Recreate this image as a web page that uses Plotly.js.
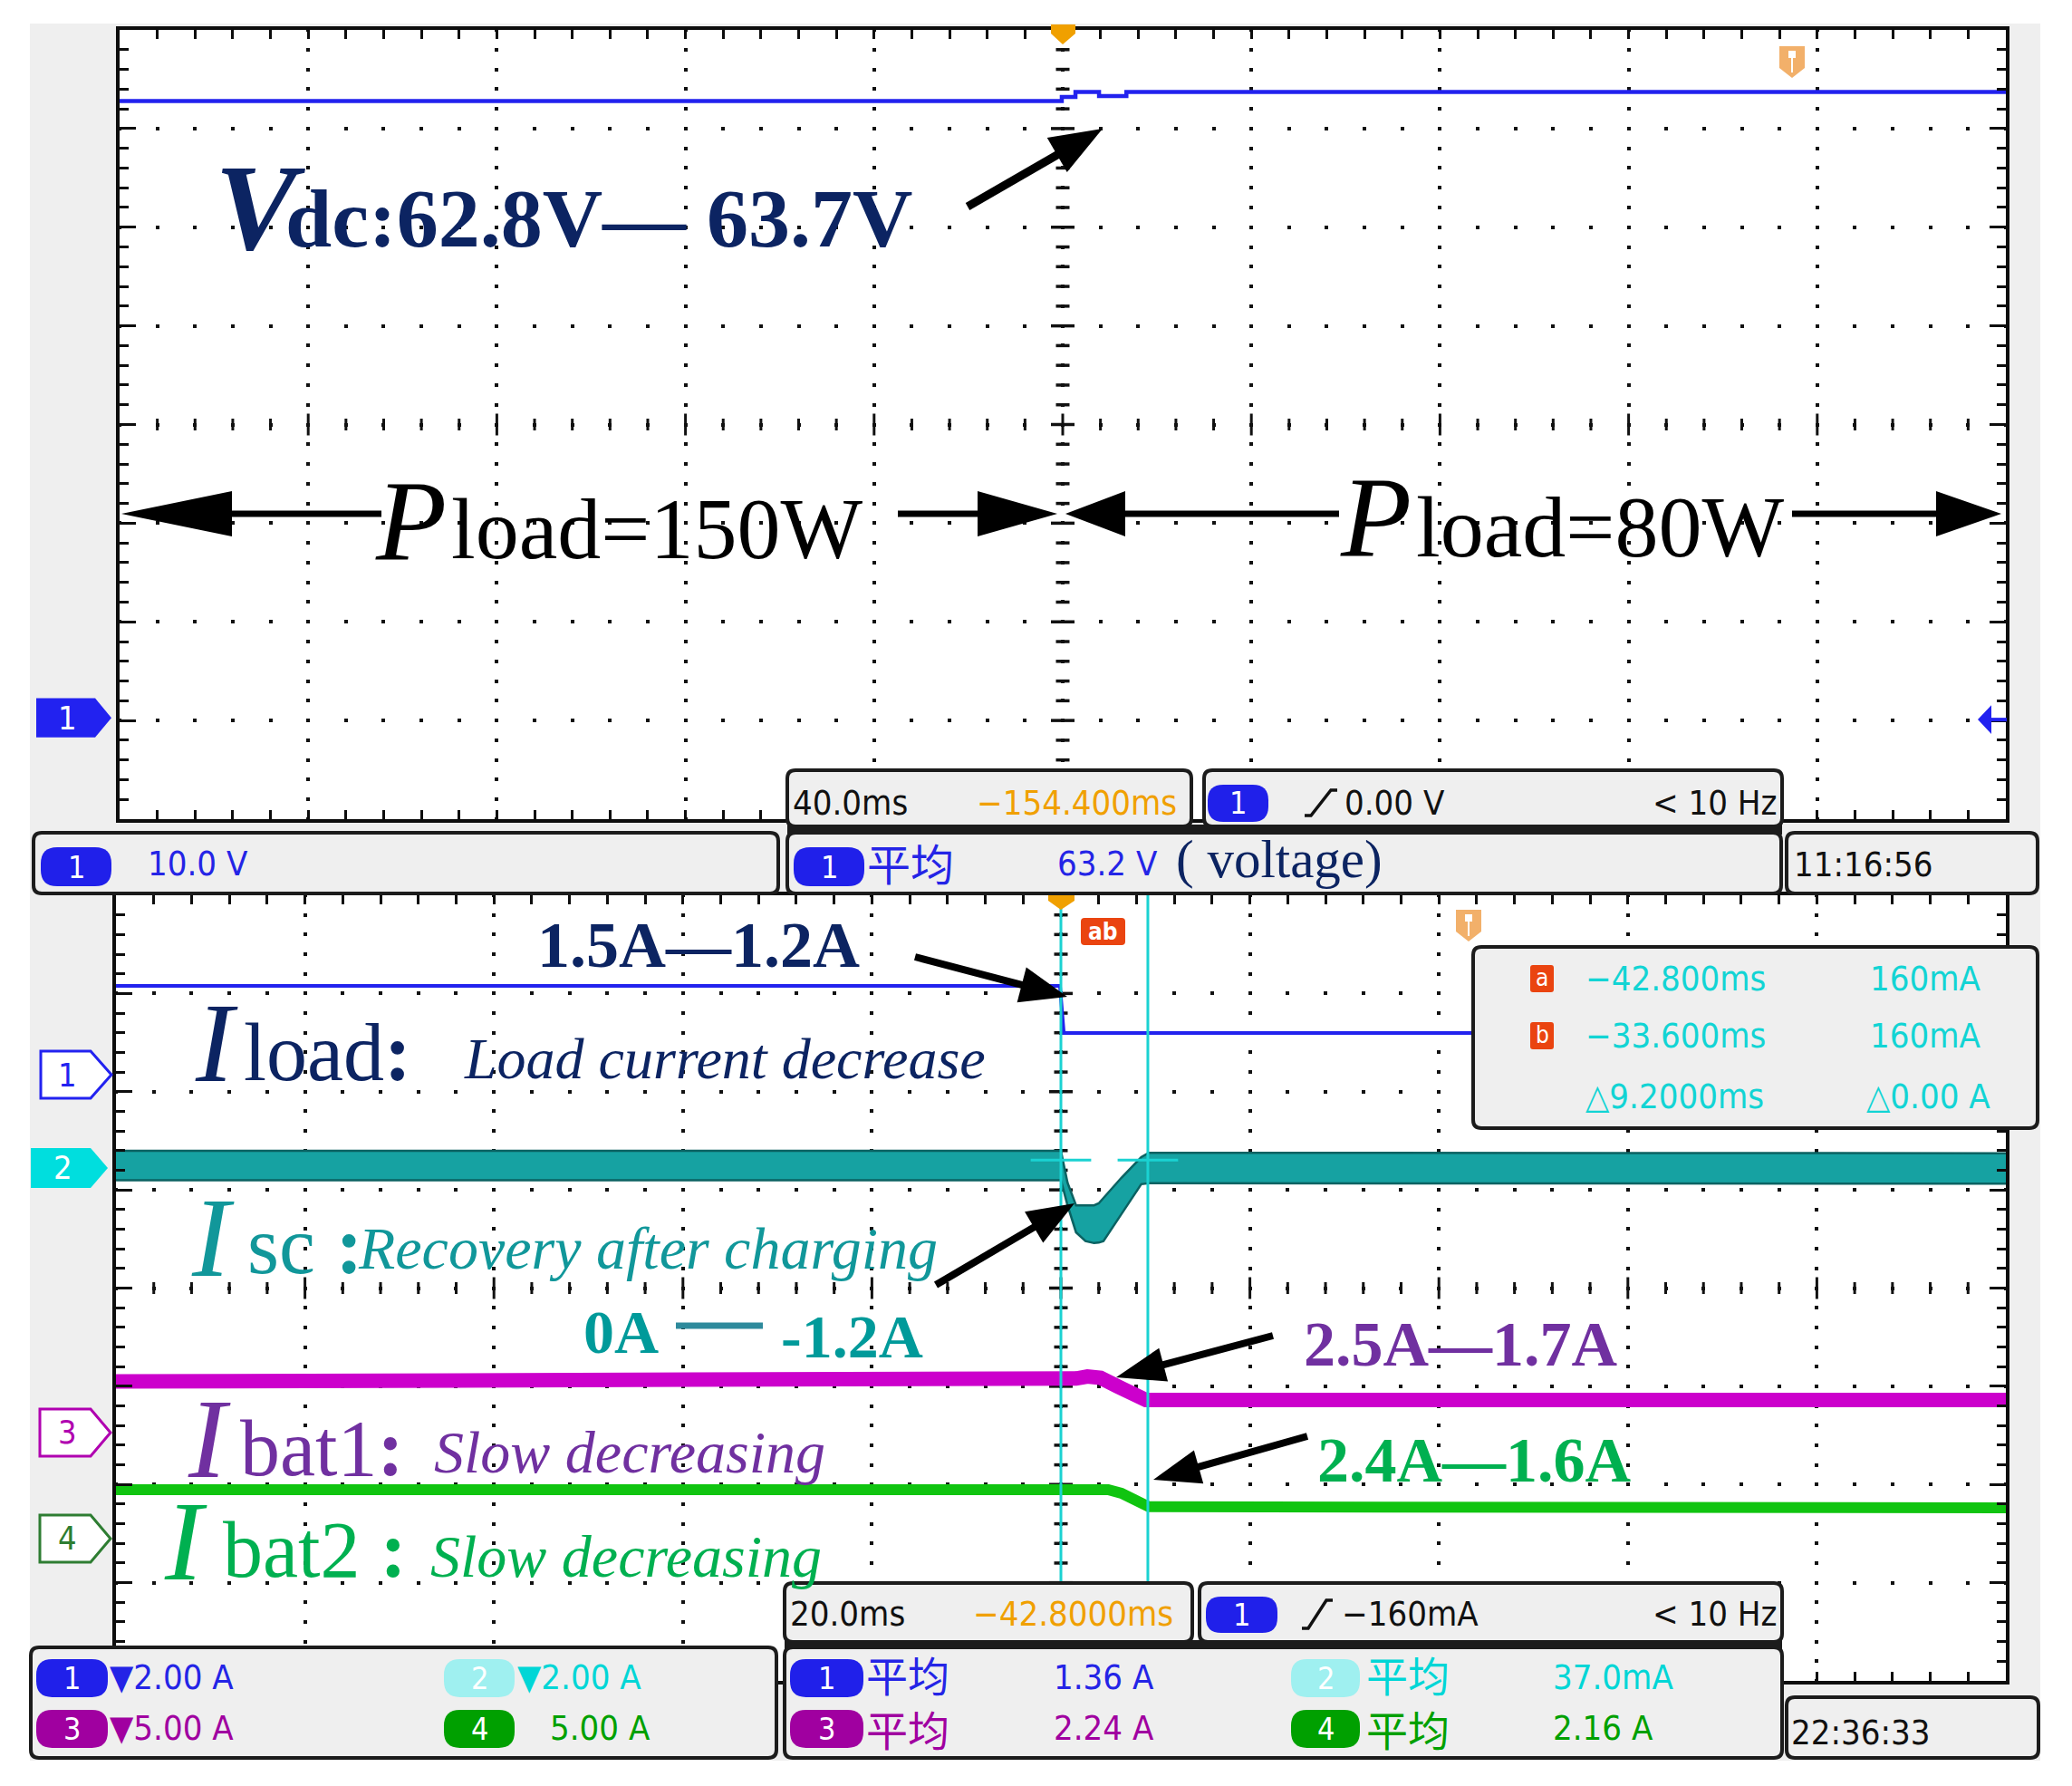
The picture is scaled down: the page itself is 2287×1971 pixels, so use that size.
<!DOCTYPE html>
<html><head><meta charset="utf-8">
<script src="https://cdn.plot.ly/plotly-3.0.1.min.js"></script>
<style>html,body{margin:0;padding:0;background:#fff}#chart{width:2287px;height:1971px}</style>
</head><body><div id="chart"></div>
<script>
// ================= DATA =================
// Upper screen: DC bus voltage Vdc (ch1, V) vs time (ms); 40 ms/div, position -154.4 ms
const vdcTime = [-354.4, -154.6, -151.7, -146.7, -140.9, 45.6];
const vdcVolt = [62.8, 63.2, 63.7, 63.3, 63.7, 63.7];

// Lower screen: currents (A) vs time (ms); 20 ms/div, position -42.8 ms
const iloadTime = [-142.8, -42.9, -42.5, 57.2];
const iloadAmp  = [1.81, 1.81, 0.85, 0.85];

const iscTime = [-142.8, -42.8, -42.1, -41.2, -40.2, -39.3, -38.8, -38.3, -36.4, -34.3, -33.5, 57.2];
const iscHigh = [0.35, 0.35, -0.30, -0.76, -0.76, -0.76, -0.72, -0.61, -0.20, 0.22, 0.31, 0.30];
const iscLow  = [-0.25, -0.25, -0.76, -1.31, -1.49, -1.53, -1.52, -1.49, -0.94, -0.33, -0.31, -0.32];

const ibat1Time = [-142.8, -42.9, -41.2, -40.0, -38.6, -36.8, -35.3, -33.8, 57.2];
const ibat1Amp  = [2.60, 2.62, 2.75, 2.85, 2.78, 2.35, 1.98, 1.66, 1.66];

const ibat2Time = [-142.8, -37.8, -36.4, -34.9, -33.5, 57.2];
const ibat2Amp  = [2.49, 2.49, 2.31, 1.91, 1.62, 1.57];

const cursorTimes = [-42.8, -33.6];
const cursorLevel = 0.16;

// channel settings of the lower screen: ch1 Iload, ch2 Isc, ch3 Ibat1, ch4 Ibat2
const chScale = [2, 2, 5, 5];               // A/div
const chOffsetDiv = [2.173, 1.223, -1.471, -2.551]; // ground position, div above centre

// ================= HELPERS =================
const W = 2287, H = 1971;
const X = p => p / W;
const Y = p => 1 - p / H;
const SERIF = '"Liberation Serif", "Times New Roman", serif';
const SANS = '"DejaVu Sans Condensed", "DejaVu Sans", sans-serif';
const CJK = '"Noto Sans CJK SC", sans-serif';
const BLUE = '#2222ee', BLUE_T = '#2424e6', CYAN_T = '#12d4d4', PURP_T = '#a000a0', GRN_T = '#00a000';
const ORANGE = '#f0a000', NAVY = '#0c2462', TEAL = '#11979a', LPURP = '#7030a0', LGRN = '#00b050';
const CURSOR = '#1ad2d2';

const topP = {x0: 132, x1: 2214, y0: 33, y1: 904};
const botP = {x0: 128, x1: 2214, y0: 988, y1: 1855};
const topX = [-354.4, 45.6], topY = [-10, 70];
const botX = [-142.8, 57.2];

const shapes = [];
const ann = [];
const f = (x, y) => X(x).toFixed(5) + ',' + Y(y).toFixed(5);
function poly(pts, fill, lc, lw, layer) {
  shapes.push({type: 'path', xref: 'paper', yref: 'paper', layer: layer || 'above',
    path: 'M' + pts.map(p => f(p[0], p[1])).join(' L') + ' Z',
    fillcolor: fill || 'rgba(0,0,0,0)', line: {color: lc || 'rgba(0,0,0,0)', width: lw || 0}});
}
function polyline(pts, lc, lw) {
  shapes.push({type: 'path', xref: 'paper', yref: 'paper', layer: 'above',
    path: 'M' + pts.map(p => f(p[0], p[1])).join(' L'), line: {color: lc, width: lw}});
}
function rect(x0, y0, x1, y1, fill, layer) {
  shapes.push({type: 'rect', xref: 'paper', yref: 'paper', layer: layer || 'above',
    x0: X(x0), x1: X(x1), y0: Y(y1), y1: Y(y0), fillcolor: fill, line: {width: 0}});
}
function line(x0, y0, x1, y1, c, w) {
  shapes.push({type: 'line', xref: 'paper', yref: 'paper', layer: 'above',
    x0: X(x0), y0: Y(y0), x1: X(x1), y1: Y(y1), line: {color: c, width: w}});
}
function rrect(x0, y0, x1, y1, r, fill, lc, lw) {
  shapes.push({type: 'path', xref: 'paper', yref: 'paper', layer: 'above',
    path: `M${f(x0 + r, y0)} L${f(x1 - r, y0)} Q${f(x1, y0)} ${f(x1, y0 + r)} L${f(x1, y1 - r)} Q${f(x1, y1)} ${f(x1 - r, y1)} L${f(x0 + r, y1)} Q${f(x0, y1)} ${f(x0, y1 - r)} L${f(x0, y0 + r)} Q${f(x0, y0)} ${f(x0 + r, y0)} Z`,
    fillcolor: fill, line: {color: lc || 'rgba(0,0,0,0)', width: lw || 0}});
}
function arrow(tx, ty, hx, hy, hl, hw, lw, c) {
  const dx = hx - tx, dy = hy - ty, L = Math.hypot(dx, dy), ux = dx / L, uy = dy / L;
  const bx = hx - ux * hl, by = hy - uy * hl, nx = -uy, ny = ux;
  line(tx, ty, bx + ux * 3, by + uy * 3, c, lw);
  poly([[hx, hy], [bx + nx * hw / 2, by + ny * hw / 2], [bx - nx * hw / 2, by - ny * hw / 2]], c);
}
function T(text, x, y, size, color, family, opts) {
  ann.push(Object.assign({xref: 'paper', yref: 'paper', x: X(x), y: Y(y), text: text, showarrow: false,
    xanchor: 'left', yanchor: 'middle', borderpad: 0, font: {family: family || SANS, size: size, color: color}}, opts || {}));
}
function S(text, x, baseline, size, color, opts) { T(text, x, baseline - 0.3375 * size, size, color, SERIF, opts); }
// two stacked rows of the CJK word in one text block (row pitch of the scope panel)
function C2(x, yMid, c1, c2) {
  T(`<span style="color:${c1}">平均</span><br><span style="color:${c2}">平均</span>`, x, yMid, 46, c1, CJK, {align: 'left'});
}
function box(x0, y0, x1, y1) { rrect(x0, y0, x1, y1, 9, '#efefef', '#1c1c1c', 4); }
function badge(x0, y0, x1, y1, color, label) {
  rrect(x0, y0, x1, y1, (y1 - y0) * 0.42, color);
  T(label, (x0 + x1) / 2, (y0 + y1) / 2, 34, '#ffffff', SANS, {xanchor: 'center'});
}
function edge(x0, y0, x1, y1) {
  polyline([[x0, y1], [x0 + 7, y1], [x1 - 7, y0], [x1, y0]], '#111', 3.5);
}
function chMarker(x0, xb, xt, yc, h, color, filled, label) {
  poly([[x0, yc - h], [xb, yc - h], [xt, yc], [xb, yc + h], [x0, yc + h]], filled ? color : '#ffffff', color, filled ? 0 : 3);
  T(label, (x0 + xb) / 2 + 2, yc, 36, filled ? '#ffffff' : color, SANS, {xanchor: 'center'});
}

// ================= BACKGROUND =================
rect(33, 26, 2252, 1943, '#efefef', 'below');
rect(topP.x0, topP.y0, topP.x1, topP.y1, '#ffffff', 'below');
rect(botP.x0, botP.y0, botP.x1, botP.y1, '#ffffff', 'below');

// ================= RULERS (centre cross of graticule) =================
function rulers(xref, yref, xr, yr, nx, ny, x0px, x1px, y0px, y1px) {
  const xc = (xr[0] + xr[1]) / 2, yc = (yr[0] + yr[1]) / 2;
  const pxX = (xr[1] - xr[0]) / (x1px - x0px), pxY = (yr[1] - yr[0]) / (y1px - y0px);
  for (let k = 1; k < nx; k++) {
    const t = xr[0] + k * (xr[1] - xr[0]) / nx;
    const h = (k % 5 === 0 ? 12 : 6.5) * pxY;
    shapes.push({type: 'line', xref: xref, yref: yref, layer: 'between', x0: t, x1: t, y0: yc - h, y1: yc + h, line: {color: '#111', width: 3}});
  }
  for (let j = 1; j < ny; j++) {
    const v = yr[0] + j * (yr[1] - yr[0]) / ny;
    const h = (j % 5 === 0 ? 13 : 7.5) * pxX;
    shapes.push({type: 'line', xref: xref, yref: yref, layer: 'between', x0: xc - h, x1: xc + h, y0: v, y1: v, line: {color: '#111', width: 3.5}});
  }
}
rulers('x', 'y', topX, topY, 50, 40, topP.x0, topP.x1, topP.y0, topP.y1);
rulers('x2', 'y2', botX, [-4, 4], 50, 40, botP.x0, botP.x1, botP.y0, botP.y1);

// ================= CURSORS =================
cursorTimes.forEach(t => {
  shapes.push({type: 'line', xref: 'x2', yref: 'y2', layer: 'above', x0: t, x1: t, y0: -4, y1: 4, line: {color: CURSOR, width: 3}});
  shapes.push({type: 'line', xref: 'x2', yref: 'y4', layer: 'above', x0: t - 3.2, x1: t + 3.2, y0: cursorLevel, y1: cursorLevel, line: {color: CURSOR, width: 3}});
});

// ================= MARKERS =================
const topDivPx = (topP.y1 - topP.y0) / 8, botDivPx = (botP.y1 - botP.y0) / 8, botC = (botP.y0 + botP.y1) / 2;
const topGround = topP.y1 - (0 - topY[0]) / 10 * topDivPx;
const ground = chOffsetDiv.map(o => botC - o * botDivPx);
chMarker(40, 105, 123, topGround - 3, 21.5, '#2222f0', true, '1');
chMarker(45, 100, 123, ground[0], 26, '#2222f0', false, '1');
chMarker(34, 100, 119, ground[1], 22, '#00dede', true, '2');
chMarker(44, 100, 122, ground[2], 26, '#b000b0', false, '3');
chMarker(44, 100, 122, ground[3], 26, '#2e7d32', false, '4');
// trigger level arrow (right, top screen)
poly([[2183, topGround - 1], [2198, topGround - 17], [2198, topGround + 15]], '#2222f0');
line(2195, topGround - 1, 2215, topGround - 1, '#2222f0', 4);
// trigger position markers
poly([[1160, 27], [1187, 27], [1187, 37], [1173, 49], [1160, 37]], ORANGE);
poly([[1157, 987], [1186, 987], [1186, 994], [1171, 1004], [1157, 994]], ORANGE);
poly([[1964, 51], [1992, 51], [1992, 75], [1978, 86], [1964, 75]], '#f2b06a');
rect(1974, 56, 1982, 64, '#ffffff'); line(1978, 64, 1978, 80, '#ffffff', 2);
poly([[1607, 1004], [1635, 1004], [1635, 1028], [1621, 1039], [1607, 1028]], '#f2b06a');
rect(1617, 1009, 1625, 1017, '#ffffff'); line(1621, 1017, 1621, 1033, '#ffffff', 2);
rrect(1193, 1013, 1242, 1043, 4, '#ea4410');
T('<b>ab</b>', 1217, 1028, 26, '#ffffff', SANS, {xanchor: 'center'});

// ================= ARROWS =================
arrow(1068, 228, 1217, 142, 58, 44, 9, '#000');
arrow(421, 567, 134, 567, 122, 50, 7, '#000');
arrow(991, 567, 1167, 567, 88, 50, 7, '#000');
arrow(1478, 567, 1176, 567, 66, 50, 7, '#000');
arrow(1978, 567, 2209, 567, 72, 50, 7, '#000');
arrow(1010, 1056, 1178, 1100, 52, 40, 8, '#000');
arrow(1033, 1418, 1186, 1328, 52, 40, 8, '#000');
arrow(1405, 1474, 1232, 1520, 54, 38, 8, '#000');
arrow(1443, 1585, 1273, 1633, 52, 38, 8, '#000');
line(746, 1463, 842, 1463, '#2e8a9c', 7);

// ================= INFO BOXES =================
box(869, 850, 1315, 912);
box(1329, 850, 1967, 912);
box(37, 919, 859, 986);
box(869, 919, 1966, 986);
box(1972, 919, 2249, 986);
rect(869, 910, 1967, 921, '#1c1c1c');
box(1626, 1045, 2249, 1245);
box(866, 1747, 1316, 1812);
box(1324, 1747, 1967, 1812);
box(34, 1818, 857, 1940);
box(866, 1818, 1967, 1940);
box(1972, 1873, 2250, 1940);
rect(866, 1810, 1967, 1820, '#1c1c1c');

// top row
T('40.0ms', 874, 886, 38, '#111');
T('−154.400ms', 1077, 886, 38, ORANGE);
badge(1333, 866, 1400, 907, '#2020ea', '1');
edge(1440, 872, 1476, 900);
T('0.00 V', 1483, 886, 38, '#111');
T('< 10 Hz', 1963, 886, 38, '#111', SANS, {xanchor: 'right'});
// second row
badge(45, 935, 123, 978, '#2020ea', '1');
T('10.0 V', 162, 953, 38, BLUE_T);
badge(876, 935, 954, 978, '#2020ea', '1');
T('平均', 956, 951, 48, BLUE_T, CJK);
T('63.2 V', 1166, 953, 38, BLUE_T);
S('( voltage)', 1297, 968, 59, NAVY);
T('11:16:56', 1979, 954, 38, '#111');
// cursor box
rrect(1689, 1065, 1715, 1095, 3, '#ea4410');
T('a', 1702, 1079, 26, '#ffffff', SANS, {xanchor: 'center'});
rrect(1689, 1128, 1715, 1158, 3, '#ea4410');
T('b', 1702, 1142, 26, '#ffffff', SANS, {xanchor: 'center'});
T('−42.800ms', 1749, 1080, 38, CYAN_T);
T('160mA', 2063, 1080, 38, CYAN_T);
T('−33.600ms', 1749, 1143, 38, CYAN_T);
T('160mA', 2063, 1143, 38, CYAN_T);
T('△9.2000ms', 1749, 1210, 38, CYAN_T);
T('△0.00 A', 2059, 1210, 38, CYAN_T);
// lower boxes
T('20.0ms', 871, 1781, 38, '#111');
T('−42.8000ms', 1073, 1781, 38, ORANGE);
badge(1331, 1762, 1410, 1802, '#2020ea', '1');
edge(1437, 1766, 1471, 1797);
T('−160mA', 1480, 1781, 38, '#111');
T('< 10 Hz', 1963, 1781, 38, '#111', SANS, {xanchor: 'right'});
badge(40, 1831, 119, 1873, '#2020ea', '1');
T('▼2.00 A', 120, 1851, 38, BLUE_T);
badge(490, 1831, 568, 1873, '#9ff0f0', '2');
T('▼2.00 A', 570, 1851, 38, '#00d6d6');
badge(40, 1887, 119, 1929, '#a000a0', '3');
T('▼5.00 A', 120, 1907, 38, PURP_T);
badge(490, 1887, 568, 1929, '#00a000', '4');
T('5.00 A', 606, 1907, 38, GRN_T);
badge(872, 1831, 953, 1873, '#2020ea', '1');
badge(872, 1887, 953, 1929, '#a000a0', '3');
C2(955, 1877, BLUE_T, PURP_T);
T('1.36 A', 1162, 1851, 38, BLUE_T);
T('2.24 A', 1162, 1907, 38, PURP_T);
badge(1425, 1831, 1501, 1873, '#9ff0f0', '2');
badge(1425, 1887, 1501, 1929, '#00a000', '4');
C2(1507, 1877, '#00d6d6', GRN_T);
T('37.0mA', 1713, 1851, 38, '#00d6d6');
T('2.16 A', 1713, 1907, 38, GRN_T);
T('22:36:33', 1976, 1912, 38, '#111');

// ================= LABELS =================
S('<b><i>V</i></b>', 236, 275, 136, NAVY);
S('<b>dc:62.8V— 63.7V</b>', 314, 272, 92, NAVY);
S('<i>P</i>', 413, 618, 128, '#000');
S('load=150W', 497, 616, 96, '#000');
S('<i>P</i>', 1478, 614, 128, '#000');
S('load=80W', 1562, 614, 96, '#000');
S('<i>I</i>', 214, 1193, 125, NAVY);
S('load<b>:</b>', 268, 1192, 90, NAVY);
S('<i>Load current decrease</i>', 511, 1190, 64, NAVY);
S('<b>1.5A—1.2A</b>', 771, 1067, 72, NAVY, {xanchor: 'center'});
S('<i>I</i>', 210, 1408, 125, TEAL);
S('sc <b>:</b>', 272, 1405, 90, TEAL);
S('<i>Recovery after charging</i>', 394, 1400, 66, TEAL);
S('<b>0A</b>', 643, 1493, 68, '#009a9a');
S('<b>-1.2A</b>', 861, 1498, 68, '#009a9a');
S('<b>2.5A—1.7A</b>', 1612, 1507, 70, LPURP, {xanchor: 'center'});
S('<b>2.4A—1.6A</b>', 1627, 1635, 70, LGRN, {xanchor: 'center'});
S('<i>I</i>', 206, 1630, 125, LPURP);
S('bat1<b>:</b>', 264, 1628, 88, LPURP);
S('<i>Slow decreasing</i>', 478, 1625, 66, LPURP);
S('<i>I</i>', 180, 1743, 125, LGRN);
S('bat2 <b>:</b>', 245, 1740, 88, LGRN);
S('<i>Slow decreasing</i>', 474, 1740, 66, LGRN);

// ================= AXES =================
const dotDash = p => `2px,${(p - 4).toFixed(3)}px,2px,0px`;
function axis(extra) {
  return Object.assign({
    showline: true, mirror: 'allticks', linecolor: '#0d0d0d', linewidth: 4,
    ticks: 'inside', tickcolor: '#0d0d0d', tickwidth: 3,
    showticklabels: false, zeroline: false, showgrid: true, gridcolor: '#111', gridwidth: 4,
    fixedrange: true
  }, extra);
}
const minor = (t0, dt) => ({tick0: t0, dtick: dt, ticks: 'inside', ticklen: 10, tickwidth: 3, tickcolor: '#0d0d0d', showgrid: false});

const layout = {
  width: W, height: H, margin: {l: 0, r: 0, t: 0, b: 0},
  paper_bgcolor: '#ffffff', plot_bgcolor: 'rgba(0,0,0,0)', showlegend: false, hovermode: false,
  xaxis: axis({domain: [X(topP.x0), X(topP.x1)], range: topX, tick0: topX[0], dtick: 40, ticklen: 10,
    griddash: dotDash((topP.y1 - topP.y0) / 40), anchor: 'y', minor: minor(topX[0], 8)}),
  yaxis: axis({domain: [Y(topP.y1), Y(topP.y0)], range: topY, tick0: topY[0], dtick: 10, ticklen: 18,
    griddash: dotDash((topP.x1 - topP.x0) / 50), anchor: 'x', minor: minor(topY[0], 2)}),
  xaxis2: axis({domain: [X(botP.x0), X(botP.x1)], range: botX, tick0: botX[0], dtick: 20, ticklen: 10,
    griddash: dotDash((botP.y1 - botP.y0) / 40), anchor: 'y2', minor: minor(botX[0], 4)}),
  yaxis2: axis({domain: [Y(botP.y1), Y(botP.y0)], range: [-4, 4], tick0: -4, dtick: 1, ticklen: 18,
    griddash: dotDash((botP.x1 - botP.x0) / 50), anchor: 'x2', minor: minor(-4, 0.2)}),
  shapes: shapes, annotations: ann
};
chScale.forEach((s, i) => {
  layout['yaxis' + (i + 3)] = {overlaying: 'y2', anchor: 'x2', visible: false, fixedrange: true,
    range: [(-4 - chOffsetDiv[i]) * s, (4 - chOffsetDiv[i]) * s]};
});

const traces = [
  {x: vdcTime, y: vdcVolt, xaxis: 'x', yaxis: 'y', mode: 'lines', line: {color: BLUE, width: 4.5, shape: 'hv'}},
  {x: iloadTime, y: iloadAmp, xaxis: 'x2', yaxis: 'y3', mode: 'lines', line: {color: BLUE, width: 4}},
  {x: iscTime, y: iscLow, xaxis: 'x2', yaxis: 'y4', mode: 'lines', line: {color: '#0b6262', width: 2.5}},
  {x: iscTime, y: iscHigh, xaxis: 'x2', yaxis: 'y4', mode: 'lines', fill: 'tonexty', fillcolor: '#16a2a2', line: {color: '#0b6262', width: 2.5}},
  {x: ibat1Time, y: ibat1Amp, xaxis: 'x2', yaxis: 'y5', mode: 'lines', line: {color: '#cc00cc', width: 16}},
  {x: ibat2Time, y: ibat2Amp, xaxis: 'x2', yaxis: 'y6', mode: 'lines', line: {color: '#10c410', width: 12}}
];

Plotly.newPlot('chart', traces, layout, {staticPlot: true, displayModeBar: false});
</script>
</body></html>
